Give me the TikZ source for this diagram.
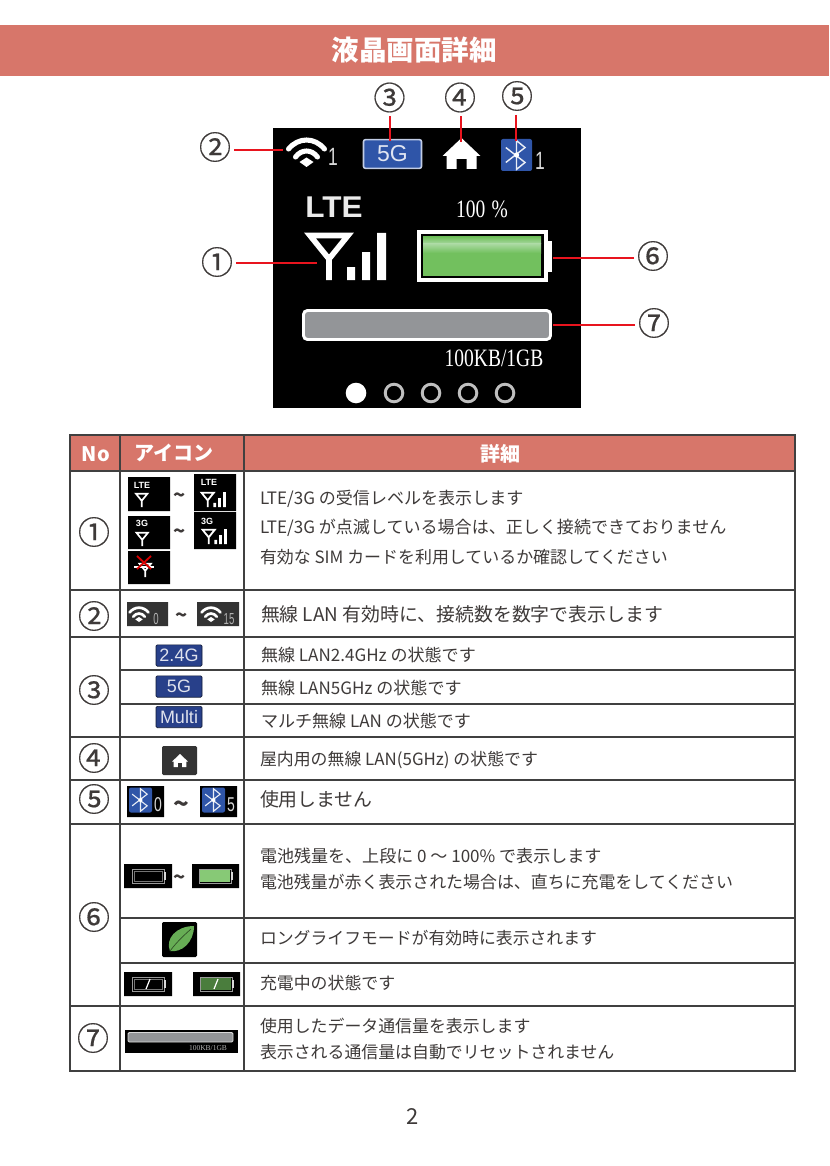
\documentclass[tikz,border=0pt]{standalone}
\usepackage{fontspec}
\setmainfont{Noto Sans CJK JP}
\newfontfamily\lcdfont{Liberation Serif}
\newfontfamily\lcdsans{Liberation Sans}
\newfontfamily\circfont[FakeBold=0.5]{Noto Sans CJK JP}
\usetikzlibrary{calc}
\definecolor{head}{HTML}{D7766A}
\definecolor{rule}{HTML}{404040}
\definecolor{ink}{HTML}{3E3A39}
\definecolor{callred}{HTML}{E8141E}
\definecolor{lcdblue}{HTML}{2F55A8}
\definecolor{navy}{HTML}{28408A}
\definecolor{batt}{HTML}{72C05E}
\definecolor{battlight}{HTML}{A9D9A0}
\definecolor{bargray}{HTML}{939598}
\definecolor{darkbox}{HTML}{333333}
\newcommand{\PX}[1]{\fontsize{\fpeval{#1*0.75}}{\fpeval{#1*0.9}}\selectfont}
\tikzset{
  x=0.75pt,y=-0.75pt,
  every node/.style={inner sep=0pt,outer sep=0pt},
  grid/.style={draw=rule,line width=1.5pt},
  callout/.style={draw=callred,line width=1.6pt},
  circnum/.style={shape=rectangle,minimum size=28.5pt,text=ink,font=\circfont\PX{32}},
  rownum/.style={shape=rectangle,minimum size=28.5pt,text=ink,font=\circfont\PX{32}},
  body/.style={anchor=west,text=ink,font=\PX{#1},text height=.85em,text depth=.15em,yshift=-1.5pt},
  body/.default=17.04,
  tilde/.style={text=ink,font=\bfseries\PX{20}},
  lcd/.style={text=white,font=\lcdfont\PX{25},xscale=.78},
  hdr/.style={text=white,font=\bfseries\PX{20}},
}
% antenna: top-left at #1,#2, scale #3, #4=1 with bars
\newcommand{\Antenna}[4]{\begin{scope}[shift={(#1,#2)},scale=#3]
  \draw[white,line width=#3*4.2pt,line join=miter] (5,2.5)--(43,2.5)--(24,26)--cycle (24,24)--(24,47);
  \ifnum#4=1
    \fill[white] (42,34) rectangle (50,47) (57,19) rectangle (65,47) (72,0) rectangle (81,47);
  \fi
\end{scope}}
% wifi: tip at #1,#2
\newcommand{\Wifi}[3]{\begin{scope}[shift={(#1,#2)},scale=#3]
  \draw[white,line width=#3*3.8pt,line cap=round] (-18,-18) .. controls (-8,-30) and (8,-30) .. (18,-18);
  \draw[white,line width=#3*3.8pt,line cap=round] (-11,-10) .. controls (-5,-18) and (5,-18) .. (11,-10);
  \fill[white] (0,0)--(-7,-5)--(0,-9.5)--(7,-5)--cycle;
\end{scope}}
% bluetooth badge centred at #1,#2, half size #3 x #4
\newcommand{\Bt}[4]{\fill[lcdblue,rounded corners=1.5pt] (#1-#3,#2-#4) rectangle (#1+#3,#2+#4);
  \begin{scope}[shift={(#1,#2)},scale=#4/15]
  \draw[white!90!lcdblue,line width=#4/15*1pt] (-10,-7)--(8,7)--(0,13.5)--(0,-13.5)--(8,-7)--(-10,7);
  \fill[white] (0,0) circle (2.4);
  \end{scope}}
% house: apex at #1,#2
\newcommand{\House}[3]{\fill[white,shift={(#1,#2)},scale=#3] (0,0)--(19,18)--(15,18)--(15,31)--(5,31)--(5,21)--(-5,21)--(-5,31)--(-15,31)--(-15,18)--(-19,18)--cycle;}
% small battery
\newcommand{\SmallBatt}[3]{\draw[white!60!black,line width=.5pt] (#1,#2) rectangle (#1+32,#2+14);
  \fill[white!85!black] (#1+32,#2+3) rectangle (#1+33.5,#2+11);
  \draw[white!45!black,line width=.5pt] (#1+2,#2+2) rectangle (#1+30,#2+12);
  \ifnum#3=1 \fill[batt!85!white] (#1+1,#2+1) rectangle (#1+31,#2+13); \fi
  \ifnum#3=2 \fill[batt!65!black] (#1+1,#2+1) rectangle (#1+31,#2+13); \fi}
\begin{document}
\begin{tikzpicture}
\useasboundingbox (0,0) rectangle (829,1166);
\fill[white] (0,0) rectangle (829,1166);
% title band
\fill[head] (0,25) rectangle (829,76);
\node[text=white,font=\bfseries\PX{27.5}] (title) at (414,50) {液晶画面詳細};
% LCD screen
\fill[black] (273,128) rectangle (581,408);
\Wifi{306.5}{167}{1}
\node[text=white!85!black,font=\lcdsans\PX{25},xscale=.7] (w1) at (333,157) {1};
\node[draw=white!70!lcdblue,line width=1.2pt,fill=lcdblue,rounded corners=1.5pt,minimum width=43.5pt,minimum height=21.5pt,text=white!85!lcdblue,font=\lcdsans\PX{23}] (fiveg) at (392.5,154) {5G};
\House{461.5}{138}{1}
\Bt{516.5}{155}{15.5}{16}
\node[text=white!85!black,font=\lcdsans\PX{25},xscale=.7] (b1) at (540,161) {1};
\node[text=white!92!black,font=\lcdsans\bfseries\PX{30},xscale=1.05] (lte) at (334,207) {LTE};
\Antenna{305}{233}{1}{1}
\node[lcd] (pct) at (482,209) {100\hspace{6pt}\%};
% battery
\fill[white] (417,230) rectangle (548,282);
\fill[white] (548,241) rectangle (552,272);
\fill[black] (421,234) rectangle (544,277.5);
\fill[batt] (423,236) rectangle (541,276);
\shade[top color=batt,bottom color=battlight] (423,237) rectangle (541,244);
\shade[top color=battlight,bottom color=batt] (423,244) rectangle (541,253);
% data bar
\draw[white,line width=2.2pt,fill=bargray,rounded corners=3pt] (303.5,310.5) rectangle (550.5,339.5);
\node[lcd] (usage) at (494,358) {100KB/1GB};
% page dots
\fill[white] (356,393) circle (10.3);
\foreach \dx in {394,431,468,505}{\draw[white!75!black,line width=2.2pt] (\dx,393) circle (8.8);}
% callouts
\node[circnum] (c1) at (217,262) {①};
\node[circnum] (c2) at (215,147) {②};
\node[circnum] (c3) at (389.5,97.5) {③};
\node[circnum] (c4) at (460,97.5) {④};
\node[circnum] (c5) at (517,96) {⑤};
\node[circnum] (c6) at (653,256) {⑥};
\node[circnum] (c7) at (654,323) {⑦};
\coordinate (t1) at (317,263);
\coordinate (t2) at (283,150);
\coordinate (t3) at (390,141);
\coordinate (t4) at (461,142);
\coordinate (t5) at (516,141);
\coordinate (t6) at (553,258);
\coordinate (t7) at (553,325);
\draw[callout] (t1 -| c1.east) -- (t1);
\draw[callout] (t2 -| c2.east) -- (t2);
\draw[callout] (t3 |- c3.south) -- (t3);
\draw[callout] (t4 |- c4.south) -- (t4);
\draw[callout] (t5 |- c5.south) -- (t5);
\draw[callout] (t6 -| c6.west) -- (t6);
\draw[callout] (t7 -| c7.west) -- (t7);
% table header
\fill[head] (70,435) rectangle (795,471);
\node[hdr] (hno) at (96,454) {No};
\node[hdr] (hicon) at (174,453) {アイコン};
\node[hdr] (hdet) at (500,454) {詳細};
% table rules
\draw[grid] (70,435) rectangle (795,1071);
\draw[grid] (120,435)--(120,1071) (244,435)--(244,1071);
\foreach \ry in {471,590,637,737,780,824,1006}{\draw[grid] (70,\ry)--(795,\ry);}
\foreach \ry in {670,704,918,963}{\draw[grid] (120,\ry)--(795,\ry);}
% row numbers
\node[rownum] (r1) at (94,532) {①};
\node[rownum] (r2) at (94,616) {②};
\node[rownum] (r3) at (94,690) {③};
\node[rownum] (r4) at (94,758) {④};
\node[rownum] (r5) at (94,799) {⑤};
\node[rownum] (r6) at (94,917) {⑥};
\node[rownum] (r7) at (93,1038) {⑦};
% row 1 icons
\fill[black] (128,477) rectangle (170,511) (194,474) rectangle (236,511) (128,516) rectangle (170,549) (194,512) rectangle (236,549) (128,551) rectangle (170,584);
\node[text=white,font=\lcdsans\bfseries\PX{9}] (i1a) at (142,485) {LTE};
\node[text=white,font=\lcdsans\bfseries\PX{9}] (i1b) at (209,482) {LTE};
\node[text=white,font=\lcdsans\bfseries\PX{9}] (i1c) at (142,523) {3G};
\node[text=white,font=\lcdsans\bfseries\PX{9}] (i1d) at (207,521) {3G};
\Antenna{134.5}{493}{.3}{0}
\Antenna{200}{492}{.32}{1}
\Antenna{135}{532}{.3}{0}
\Antenna{201}{529}{.32}{1}
\Antenna{138}{563}{.3}{0}
\draw[white,line width=.8pt] (134,567)--(154,567);
\draw[red!85!black,line width=1.4pt] (137,556)--(151,569) (151,556)--(137,569);
\node[tilde] (til1) at (180,498) {\textasciitilde};
\node[tilde] (til2) at (180,534) {\textasciitilde};
% row 2 icons
\fill[darkbox] (127,602) rectangle (168,626) (197,602) rectangle (239,626);
\Wifi{139}{622}{.53}
\Wifi{211}{622}{.53}
\node[text=white!70!black,font=\lcdsans\PX{16},xscale=.6] (w0) at (156,619) {0};
\node[text=white!70!black,font=\lcdsans\PX{16},xscale=.6] (w15) at (229,619) {15};
\node[tilde] (til3) at (182,618) {\textasciitilde};
% row 3 icons
\foreach \n/\cy/\tx in {a/655.5/2.4G,b/686.5/5G,c/717/Multi}{
  \node[draw=black!60!navy,line width=.5pt,fill=navy,rounded corners=1pt,minimum width=34.5pt,minimum height=16pt,text=white!85!navy,font=\lcdsans\PX{18}] (band\n) at (179,\cy) {\tx};}
% row 4 icon
\fill[darkbox,rounded corners=1pt] (162,746) rectangle (197,775);
\House{180}{754}{.42}
% row 5 icons
\fill[black] (127,786) rectangle (164,817) (200,786) rectangle (237,817);
\Bt{140.5}{800}{11.5}{12.5}
\Bt{213.5}{800}{11.5}{12.5}
\node[text=white!85!black,font=\lcdsans\PX{20},xscale=.7] (b0) at (158,805) {0};
\node[text=white!85!black,font=\lcdsans\PX{20},xscale=.7] (b5) at (231,805) {5};
\node[text=ink,font=\bfseries\PX{26}] (til4) at (181,807) {\textasciitilde};
% row 6 icons
\fill[black] (124,864) rectangle (172,888) (192,864) rectangle (239,888);
\SmallBatt{132}{869}{0}
\SmallBatt{199}{869}{1}
\node[tilde] (til5) at (180,880) {\textasciitilde};
\fill[black,rounded corners=1pt] (162,922) rectangle (197,957);
\fill[batt!90!black] (170,951) .. controls (165,939) and (176,926) .. (194,926) .. controls (194,942) and (182,953) .. (170,951) -- cycle;
\draw[black!60!batt,line width=.5pt] (170,951) .. controls (176,943) and (182,937) .. (191,929);
\fill[black] (124,972) rectangle (172,996) (193,972) rectangle (240,996);
\SmallBatt{132}{977}{0}
\SmallBatt{200}{977}{2}
\draw[white,line width=.9pt] (146,989)--(150,979);
\draw[white,line width=.9pt] (214,989)--(218,979);
% row 7 icon
\fill[black] (125,1030) rectangle (238,1053);
\draw[white!85!black,line width=.7pt,fill=bargray,rounded corners=1pt] (128,1032.5) rectangle (233,1042);
\node[text=white!70!black,font=\lcdfont\PX{7.5}] (i7) at (208,1048) {100KB/1GB};
% details
\node[body] (d1a) at (260,498) {LTE/3G の受信レベルを表示します};
\node[body] (d1b) at (260,527) {LTE/3G が点滅している場合は、正しく接続できておりません};
\node[body=16.95] (d1c) at (260,557) {有効な SIM カードを利用しているか確認してください};
\node[body=18.88] (d2) at (261,615) {無線 LAN 有効時に、接続数を数字で表示します};
\node[body] (d3a) at (261,655) {無線 LAN2.4GHz の状態です};
\node[body] (d3b) at (261,688) {無線 LAN5GHz の状態です};
\node[body] (d3c) at (261,721) {マルチ無線 LAN の状態です};
\node[body=16.9] (d4) at (260,759) {屋内用の無線 LAN(5GHz) の状態です};
\node[body=18.88] (d5) at (260,800) {使用しません};
\node[body] (d6a) at (260,856) {電池残量を、上段に 0 ～ 100\% で表示します};
\node[body=16.93] (d6b) at (260,882) {電池残量が赤く表示された場合は、直ちに充電をしてください};
\node[body=16.85] (d6c) at (260,938) {ロングライフモードが有効時に表示されます};
\node[body=16.9] (d6d) at (260,983) {充電中の状態です};
\node[body=16.9] (d7a) at (260,1026) {使用したデータ通信量を表示します};
\node[body=16.9] (d7b) at (260,1052) {表示される通信量は自動でリセットされません};
\node[text=ink,font=\PX{22}] (page) at (412.5,1116) {2};
\end{tikzpicture}
\end{document}
